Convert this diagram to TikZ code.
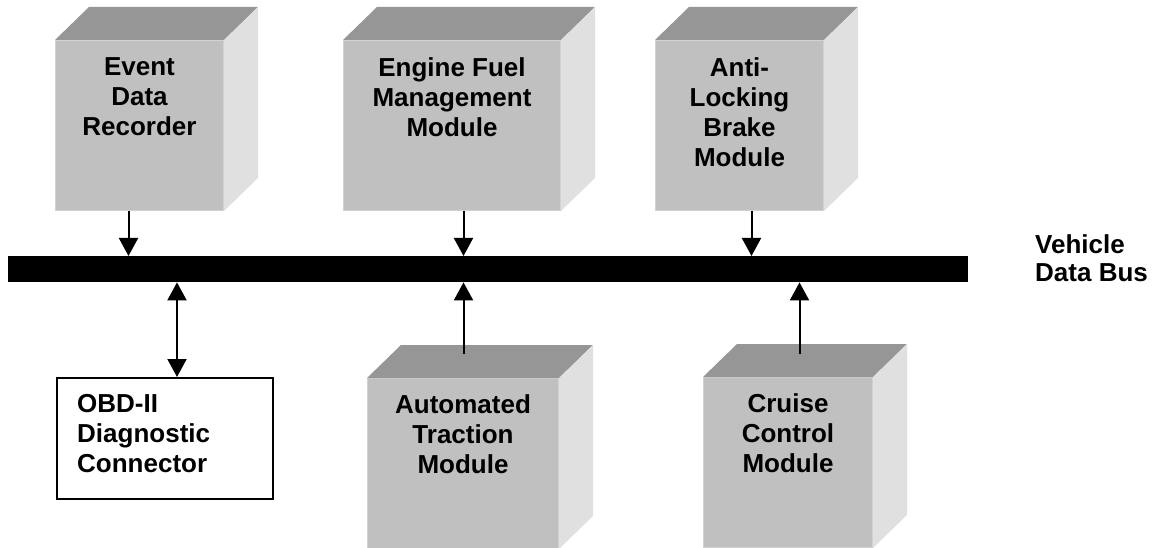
\documentclass[tikz,border=0pt]{standalone}
\usepackage{fontspec}
\setmainfont{Liberation Sans}
\usetikzlibrary{arrows.meta,calc}
\definecolor{frontc}{HTML}{C0C0C0}
\definecolor{topc}{HTML}{969696}
\definecolor{sidec}{HTML}{E0E0E0}
\definecolor{edgec}{HTML}{D2D2D2}
\tikzset{
  front/.style={fill=frontc, draw=edgec, line width=1pt, inner sep=0pt, anchor=north west},
  label/.style={font=\fontsize{26}{30}\selectfont\bfseries, align=center, inner sep=0pt, anchor=north},
  arr/.style={line width=2pt, -{Triangle[length=18pt,width=19pt]}},
  darr/.style={line width=2pt, {Triangle[length=18pt,width=19pt]}-{Triangle[length=18pt,width=19pt]}},
}
\newcommand{\cubefaces}[1]{%
  \fill[topc] (#1.north west) -- ++(34,-33) -- ($(#1.north east)+(34,-33)$) -- (#1.north east) -- cycle;
  \fill[sidec] (#1.north east) -- ++(34,-33) -- ($(#1.south east)+(34,-33)$) -- (#1.south east) -- cycle;
}
\begin{document}
\begin{tikzpicture}[x=1pt,y=-1pt]
\useasboundingbox (0,0) rectangle (1154,548);
% top cubes
\node[front, minimum width=168pt, minimum height=170pt] (edr) at (55,40) {};
\node[front, minimum width=217pt, minimum height=170pt] (efm) at (343,40) {};
\node[front, minimum width=168pt, minimum height=170pt] (abs) at (655,40) {};
% bottom cubes
\node[front, minimum width=191pt, minimum height=170pt] (atm) at (367,378) {};
\node[front, minimum width=169pt, minimum height=170pt] (ccm) at (703,377) {};
\cubefaces{edr}
\cubefaces{efm}
\cubefaces{abs}
\cubefaces{atm}
\cubefaces{ccm}
% labels
\node[label] (edrt) at ([yshift=-17pt]edr.north) {Event\\Data\\Recorder};
\node[label] (efmt) at ([yshift=-17pt]efm.north) {Engine Fuel\\Management\\Module};
\node[label] (abst) at ([yshift=-17pt]abs.north) {Anti-\\Locking\\Brake\\Module};
\node[label] (atmt) at ([yshift=-16pt]atm.north) {Automated\\Traction\\Module};
\node[label] (ccmt) at ([yshift=-16pt]ccm.north) {Cruise\\Control\\Module};
% OBD box
\node[draw=black, line width=2pt, inner sep=0pt, anchor=north west, minimum width=216pt, minimum height=121pt] (obd) at (56,377) {};
\node[label, align=left, anchor=north west] (obdt) at (77,394) {OBD-II\\Diagnostic\\Connector};
% bus
\node[fill=black, inner sep=0pt, anchor=north west, minimum width=960pt, minimum height=26pt] (bus) at (8,256) {};
\node[label, font=\fontsize{26}{28}\selectfont\bfseries, align=left, anchor=north west] (bust) at (1035,234) {Vehicle\\Data Bus};
% connectors
\draw[arr] ([xshift=-11pt]edr.south) -- ([xshift=-11pt]edr.south |- bus.north);
\draw[arr] ([xshift=11.5pt]efm.south) -- ([xshift=11.5pt]efm.south |- bus.north);
\draw[arr] ([xshift=12pt]abs.south) -- ([xshift=12pt]abs.south |- bus.north);
\draw[arr] ([xshift=0.5pt,yshift=24pt]atm.north) -- ([xshift=0.5pt]atm.north |- bus.south);
\draw[arr] ([xshift=11.5pt,yshift=23pt]ccm.north) -- ([xshift=11.5pt]ccm.north |- bus.south);
\draw[darr] ([xshift=12pt]obd.north) -- ([xshift=12pt]obd.north |- bus.south);
\end{tikzpicture}
\end{document}
